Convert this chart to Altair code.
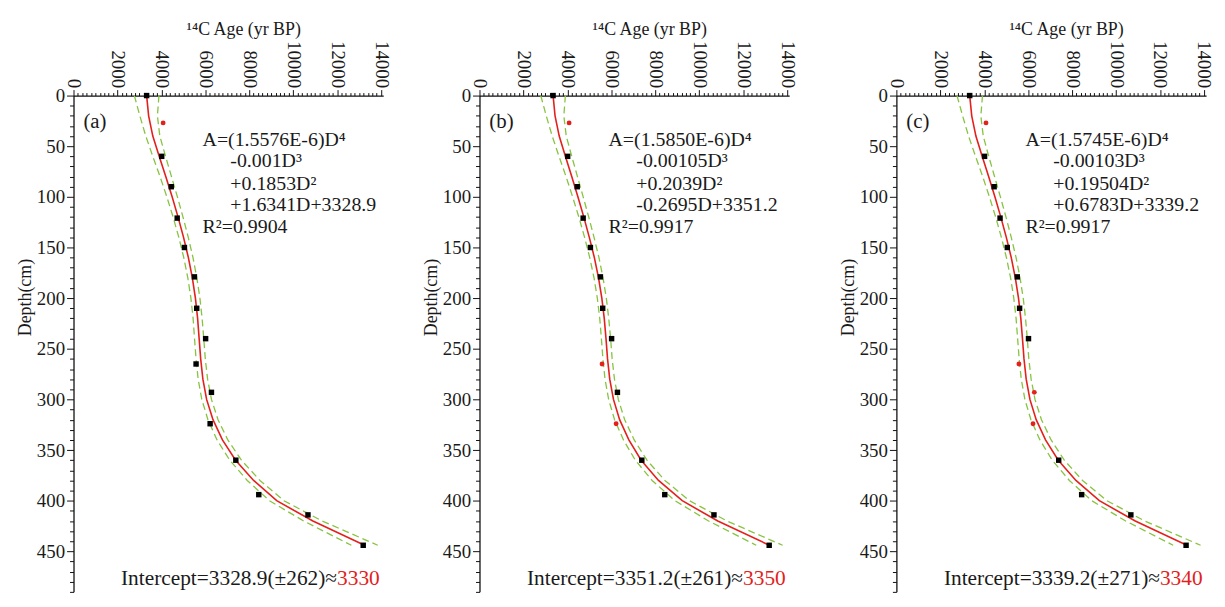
import altair as alt
import pandas as pd

FONT = "Liberation Serif"

# ---- dated samples (depth in cm, 14C age in yr BP) ----
sample_depth = [0, 27, 60, 90, 121, 150, 179, 210, 240, 265, 293, 324, 360, 394, 414, 444]
sample_age_a = [3329, 4080, 4015, 4450, 4720, 5050, 5505, 5610, 6015, 5580, 6280, 6220, 7390, 8435, 10675, 13190]
sample_age_b = [3351, 4080, 4015, 4450, 4720, 5050, 5505, 5610, 6015, 5580, 6280, 6220, 7390, 8435, 10675, 13190]
sample_age_c = [3339, 4080, 4015, 4450, 4720, 5050, 5505, 5610, 6015, 5580, 6280, 6220, 7390, 8435, 10675, 13190]
# 1 = excluded sample (red dot), 0 = used sample (black square)
excluded_a = [0, 1, 0, 0, 0, 0, 0, 0, 0, 0, 0, 0, 0, 0, 0, 0]
excluded_b = [0, 1, 0, 0, 0, 0, 0, 0, 0, 1, 0, 1, 0, 0, 0, 0]
excluded_c = [0, 1, 0, 0, 0, 0, 0, 0, 0, 1, 1, 1, 0, 0, 0, 0]

# ---- fitted curves and confidence bands ----
curve_depth = [0, 20, 40, 60, 80, 100, 120, 140, 160, 180, 200, 220, 240, 260, 280, 300,
               320, 340, 360, 380, 400, 420, 444]
fit_a = [3329, 3420, 3610, 3900, 4200, 4490, 4760, 5010, 5230, 5410, 5550, 5650, 5720, 5790,
         5890, 6060, 6350, 6780, 7380, 8200, 9250, 10900, 13250]
upper_a = [3890, 3820, 3930, 4190, 4460, 4730, 4985, 5225, 5440, 5615, 5755, 5855, 5930, 6000,
           6105, 6280, 6580, 7025, 7645, 8490, 9580, 11320, 13850]
lower_a = [2770, 3020, 3290, 3610, 3940, 4250, 4535, 4795, 5020, 5205, 5345, 5445, 5510, 5580,
           5675, 5840, 6120, 6535, 7115, 7910, 8920, 10480, 12650]

fit_b = [3351, 3440, 3630, 3910, 4200, 4480, 4750, 5000, 5230, 5420, 5570, 5680, 5760, 5830,
         5930, 6100, 6380, 6800, 7360, 8150, 9230, 10850, 13200]
upper_b = [3910, 3840, 3950, 4200, 4460, 4720, 4975, 5215, 5440, 5625, 5775, 5885, 5970, 6040,
           6145, 6320, 6610, 7045, 7625, 8440, 9560, 11270, 13800]
lower_b = [2790, 3040, 3310, 3620, 3940, 4240, 4525, 4785, 5020, 5215, 5365, 5475, 5550, 5620,
           5715, 5880, 6150, 6555, 7095, 7860, 8900, 10430, 12600]

fit_c = [3339, 3430, 3620, 3905, 4200, 4485, 4755, 5005, 5230, 5415, 5560, 5665, 5740, 5810,
         5910, 6080, 6365, 6790, 7370, 8175, 9240, 10875, 13225]
upper_c = [3920, 3845, 3955, 4205, 4470, 4735, 4990, 5230, 5450, 5630, 5775, 5880, 5960, 6030,
           6135, 6310, 6605, 7045, 7645, 8475, 9585, 11310, 13850]
lower_c = [2760, 3015, 3285, 3605, 3930, 4235, 4520, 4780, 5010, 5200, 5345, 5450, 5520, 5590,
           5685, 5850, 6125, 6535, 7095, 7875, 8895, 10440, 12600]

# ---- texts ----
panel_labels = ["(a)", "(b)", "(c)"]
eq_a = ["A=(1.5576E-6)D\u2074", "-0.001D\u00b3", "+0.1853D\u00b2", "+1.6341D+3328.9", "R\u00b2=0.9904"]
eq_b = ["A=(1.5850E-6)D\u2074", "-0.00105D\u00b3", "+0.2039D\u00b2", "-0.2695D+3351.2", "R\u00b2=0.9917"]
eq_c = ["A=(1.5745E-6)D\u2074", "-0.00103D\u00b3", "+0.19504D\u00b2", "+0.6783D+3339.2", "R\u00b2=0.9917"]
intercept_a = ["Intercept=3328.9(\u00b1262)\u2248", "3330"]
intercept_b = ["Intercept=3351.2(\u00b1261)\u2248", "3350"]
intercept_c = ["Intercept=3339.2(\u00b1271)\u2248", "3340"]

RED = "#e3211c"
GREEN = "#86c440"
INK = "#1a1a1a"

xs = alt.Scale(domain=[0, 14100], nice=False, zero=False)
ys = alt.Scale(domain=[0, 490], reverse=True, nice=False, zero=False)

xaxis = alt.Axis(
    orient="top", title="\u00b9\u2074C Age (yr BP)", values=list(range(0, 14001, 200)),
    format="d", labelExpr="datum.value % 2000 === 0 ? datum.label : ''",
    labelAngle=90, labelAlign="right", labelBaseline="middle", labelOverlap=False,
    labelFlush=False, labelPadding=2,
    tickSize={"condition": {"test": "datum.value % 2000 === 0", "value": 6}, "value": 3},
    titlePadding=2, titleX=171, grid=False, domainWidth=1.3)
yaxis = alt.Axis(
    orient="left", title="Depth(cm)", values=list(range(0, 491, 10)),
    labelExpr="datum.value % 50 === 0 ? datum.label : ''", labelOverlap=False,
    labelFlush=False, labelPadding=2,
    tickSize={"condition": {"test": "datum.value % 50 === 0", "value": 7}, "value": 4},
    titlePadding=2, titleY=203, grid=False, domainWidth=1.3)


def enc(chart):
    return chart.encode(x=alt.X("age:Q", scale=xs, axis=xaxis),
                        y=alt.Y("depth:Q", scale=ys, axis=yaxis))


def panel(label, fit, upper, lower, s_age, excl, eq, icpt):
    curves = pd.DataFrame({"depth": curve_depth, "fit": fit, "upper": upper, "lower": lower})
    pts = pd.DataFrame({"depth": sample_depth, "age": s_age, "excl": excl})

    layers = []
    for col in ["lower", "upper"]:
        d = curves[["depth", col]].rename(columns={col: "age"})
        layers.append(enc(alt.Chart(d).mark_line(color=GREEN, strokeDash=[7, 4], strokeWidth=1.3))
                      .encode(order="depth:Q"))
    d = curves[["depth", "fit"]].rename(columns={"fit": "age"})
    layers.append(enc(alt.Chart(d).mark_line(color=RED, strokeWidth=1.6)).encode(order="depth:Q"))
    layers.append(enc(alt.Chart(pts[pts.excl == 0]).mark_point(
        shape="square", filled=True, size=30, color="black", opacity=1)))
    layers.append(enc(alt.Chart(pts[pts.excl == 1]).mark_circle(size=24, color=RED, opacity=1)))

    eq_df = pd.DataFrame({
        "age": [5875, 7140, 7140, 7140, 5875],
        "depth": [50, 70.6, 93.1, 114.4, 135.3],
        "t": eq})
    layers.append(enc(alt.Chart(eq_df).mark_text(
        align="left", baseline="alphabetic", fontSize=20, color=INK)).encode(text="t:N"))

    lab_df = pd.DataFrame({"age": [450], "depth": [32], "t": [label]})
    layers.append(enc(alt.Chart(lab_df).mark_text(
        align="left", baseline="alphabetic", fontSize=21, color=INK)).encode(text="t:N"))

    ib = pd.DataFrame({"age": [12000], "depth": [483], "t": [icpt[0]]})
    ir = pd.DataFrame({"age": [12000], "depth": [483], "t": [icpt[1]]})
    layers.append(enc(alt.Chart(ib).mark_text(
        align="right", baseline="alphabetic", fontSize=21.5, color=INK)).encode(text="t:N"))
    layers.append(enc(alt.Chart(ir).mark_text(
        align="left", baseline="alphabetic", fontSize=21.5, color=RED)).encode(text="t:N"))

    return alt.layer(*layers).properties(width=312, height=500)


pa = panel(panel_labels[0], fit_a, upper_a, lower_a, sample_age_a, excluded_a, eq_a, intercept_a)
pb = panel(panel_labels[1], fit_b, upper_b, lower_b, sample_age_b, excluded_b, eq_b, intercept_b)
pc = panel(panel_labels[2], fit_c, upper_c, lower_c, sample_age_c, excluded_c, eq_c, intercept_c)

chart = alt.hconcat(alt.hconcat(pa, pb, spacing=32), pc, spacing=43).properties(
    padding={"left": 8, "top": 10, "right": 4, "bottom": 0}
).configure_view(stroke=None).configure_axis(
    labelFont=FONT, titleFont=FONT, labelFontSize=19, titleFontSize=18,
    titleFontWeight="normal", labelColor=INK, titleColor=INK,
    domainColor="#111", tickColor="#111"
).configure_text(font=FONT)

chart.save("out.html", embed_options={"renderer": "svg", "actions": False})
